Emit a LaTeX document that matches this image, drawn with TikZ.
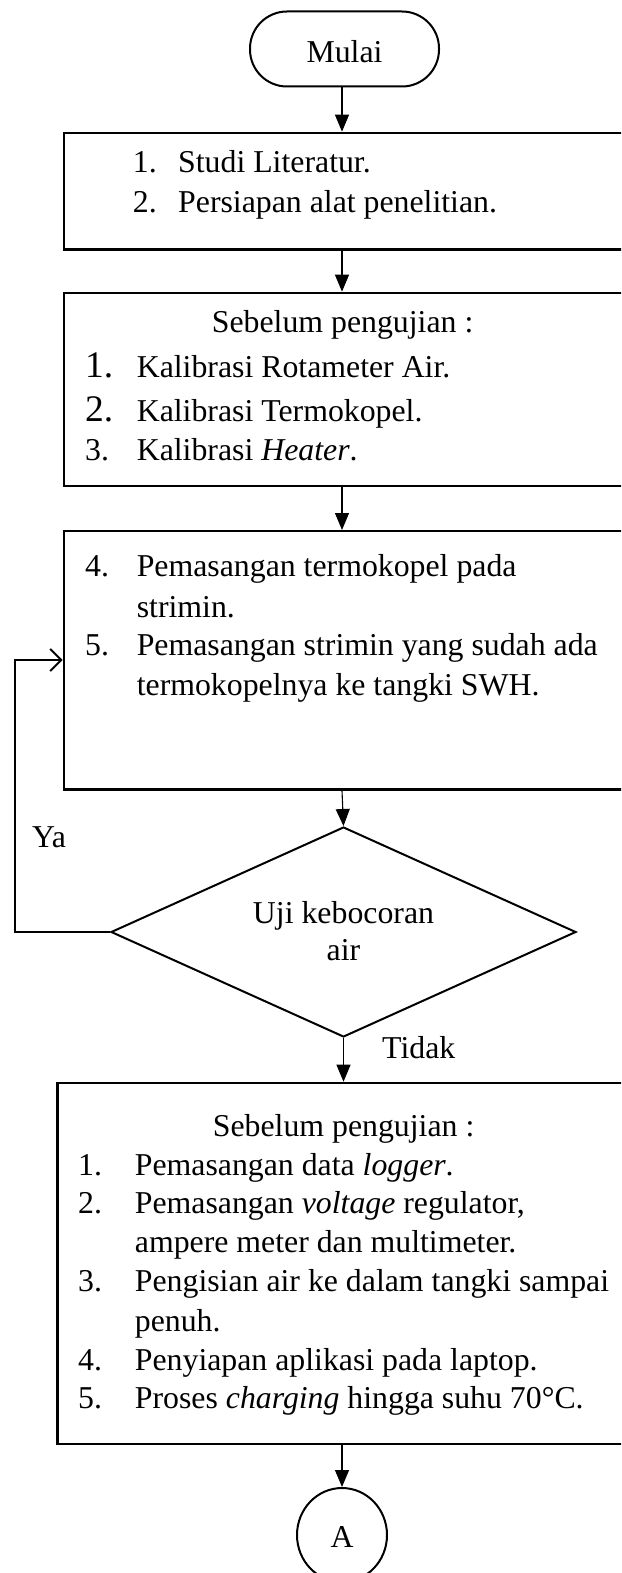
\documentclass[tikz,border=0pt]{standalone}
\usepackage{fontspec}
\setmainfont{Liberation Serif}
\usetikzlibrary{arrows.meta,shapes.geometric}
\begin{document}
\begin{tikzpicture}[x=1pt,y=-1pt,
  box/.style={draw, line width=2.4pt, anchor=north west, inner sep=0pt},
  conn/.style={line width=1.1pt, -{Triangle[length=17pt,width=14pt]}},
  loopline/.style={line width=2pt, -{Straight Barb[length=11pt,width=22pt,line width=2pt]}},
  txt/.style={anchor=base west, inner sep=0pt, font=\fontsize{31.8}{39}\selectfont},
  ctxt/.style={anchor=base, inner sep=0pt, font=\fontsize{31.8}{39}\selectfont},
  bignum/.style={anchor=base west, inner sep=0pt, font=\fontsize{37.5}{39}\selectfont}]
\useasboundingbox (0,0) rectangle (621,1573);
\clip (0,0) rectangle (621,1573);
% terminal
\node[draw, line width=2pt, rounded corners=37pt, minimum width=189pt, minimum height=75pt, inner sep=0pt] (term) at (344.5,49) {};
\node[ctxt] (termtxt) at (344.5,63) {Mulai};
% box 1
\node[box, minimum width=580pt, minimum height=116.6pt] (b1) at (62.6,131.7) {};
\node[txt] (b1n1) at (132.7,173) {1.};
\node[txt] (b1t1) at (178,173) {Studi Literatur.};
\node[txt] (b1n2) at (132.7,212) {2.};
\node[txt] (b1t2) at (178,212) {Persiapan alat penelitian.};
% box 2
\node[box, minimum width=580pt, minimum height=193.3pt] (b2) at (62.6,291.7) {};
\node[ctxt] (b2h) at (342.6,332.7) {Sebelum pengujian :};
\node[bignum] (b2n1) at (85,377) {1.};
\node[txt] (b2t1) at (136.6,377) {Kalibrasi Rotameter Air.};
\node[bignum] (b2n2) at (85,421.7) {2.};
\node[txt] (b2t2) at (136.6,421.7) {Kalibrasi Termokopel.};
\node[txt] (b2n3) at (85,460) {3.};
\node[txt] (b2t3) at (136.6,460) {Kalibrasi \textit{Heater}.};
% box 3
\node[box, minimum width=580pt, minimum height=258.3pt] (b3) at (62.6,530) {};
\node[txt] (b3n4) at (85,576.7) {4.};
\node[txt] (b3t4a) at (136.6,576.7) {Pemasangan termokopel pada};
\node[txt] (b3t4b) at (136.6,617) {strimin.};
\node[txt] (b3n5) at (85,655.5) {5.};
\node[txt] (b3t5a) at (136.6,655.5) {Pemasangan strimin yang sudah ada};
\node[txt] (b3t5b) at (136.6,695) {termokopelnya ke tangki SWH.};
% decision
\node[draw, diamond, line width=2pt, minimum width=465pt, minimum height=210pt, inner sep=0pt] (dec) at (343.5,932) {};
\node[ctxt] (dect1) at (343.5,923) {Uji kebocoran};
\node[ctxt] (dect2) at (343.5,960) {air};
\node[txt] (ya) at (32,847) {Ya};
\node[txt] (tidak) at (382,1058) {Tidak};
% box 4
\node[box, minimum width=590pt, minimum height=361.3pt] (b4) at (56.2,1081.7) {};
\node[ctxt] (b4h) at (343.6,1136.7) {Sebelum pengujian :};
\node[txt] (b4n1) at (78,1175) {1.};
\node[txt] (b4t1) at (134.7,1175) {Pemasangan data \textit{logger}.};
\node[txt] (b4n2) at (78,1213.3) {2.};
\node[txt] (b4t2a) at (134.7,1213.3) {Pemasangan \textit{voltage} regulator,};
\node[txt] (b4t2b) at (134.7,1252.5) {ampere meter dan multimeter.};
\node[txt] (b4n3) at (78,1291.7) {3.};
\node[txt] (b4t3a) at (134.7,1291.7) {Pengisian air ke dalam tangki sampai};
\node[txt] (b4t3b) at (134.7,1331.5) {penuh.};
\node[txt] (b4n4) at (78,1370) {4.};
\node[txt] (b4t4) at (134.7,1370) {Penyiapan aplikasi pada laptop.};
\node[txt] (b4n5) at (78,1408.3) {5.};
\node[txt] (b4t5) at (134.7,1408.3) {Proses \textit{charging} hingga suhu 70°C.};
% connector A
\node[draw, ellipse, line width=2pt, minimum width=90pt, minimum height=94pt, inner sep=0pt] (conA) at (342,1535) {};
\node[ctxt] (conAt) at (342,1547) {A};
% connectors
\coordinate (col) at (342,0);
\draw[conn] (col |- term.south) -- (col |- b1.north);
\draw[conn] (col |- b1.south) -- (col |- b2.north);
\draw[conn] (col |- b2.south) -- (col |- b3.north);
\draw[conn] (col |- b3.south) -- (dec.north);
\draw[conn] (dec.south) -- (dec.south |- b4.north);
\draw[conn] (col |- b4.south) -- (conA.north);
\coordinate (loopc) at (14.7,660);
\draw[loopline] (dec.west) -| (loopc) -- (b3.west |- loopc);
\end{tikzpicture}
\end{document}
